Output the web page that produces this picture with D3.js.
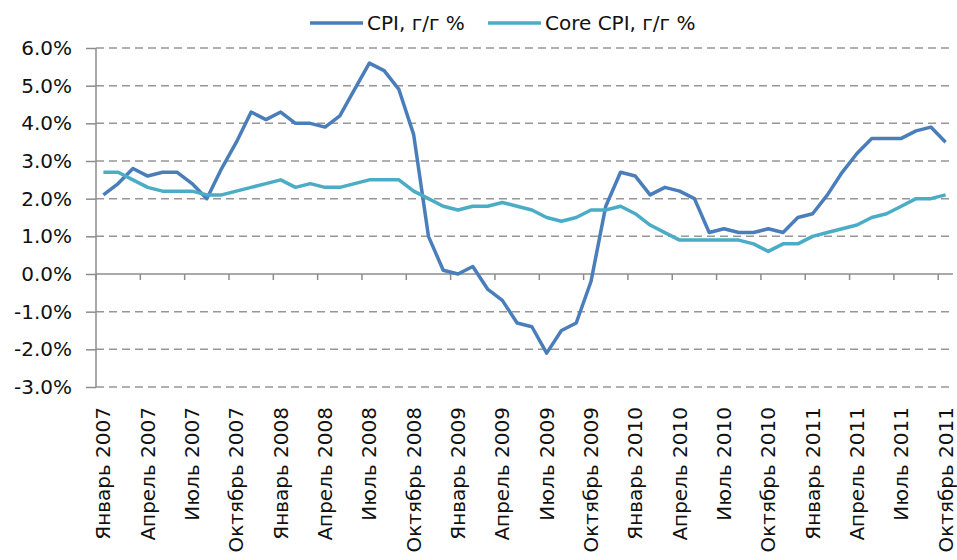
<!DOCTYPE html>
<html>
<head>
<meta charset="utf-8">
<script src="https://cdn.jsdelivr.net/npm/d3@7"></script>
<style>
  body { margin: 0; background: #fff; }
  text { font-family: "DejaVu Sans", sans-serif; fill: #111; }
</style>
</head>
<body>
<div id="chart"></div>
<script>
// month labels and years (Jan 2007 .. Oct 2011)
var monthNames = ["Январь", "Февраль", "Март", "Апрель", "Май", "Июнь",
  "Июль", "Август", "Сентябрь", "Октябрь", "Ноябрь", "Декабрь"];
var years = [2007, 2008, 2009, 2010, 2011];

// CPI, y/y %
var cpi = [
  2.1, 2.4, 2.8, 2.6, 2.7, 2.7, 2.4, 2.0, 2.8, 3.5, 4.3, 4.1,
  4.3, 4.0, 4.0, 3.9, 4.2, 4.9, 5.6, 5.4, 4.9, 3.7, 1.0, 0.1,
  0.0, 0.2, -0.4, -0.7, -1.3, -1.4, -2.1, -1.5, -1.3, -0.2, 1.8, 2.7,
  2.6, 2.1, 2.3, 2.2, 2.0, 1.1, 1.2, 1.1, 1.1, 1.2, 1.1, 1.5,
  1.6, 2.1, 2.7, 3.2, 3.6, 3.6, 3.6, 3.8, 3.9, 3.5
];

// Core CPI, y/y %
var coreCpi = [
  2.7, 2.7, 2.5, 2.3, 2.2, 2.2, 2.2, 2.1, 2.1, 2.2, 2.3, 2.4,
  2.5, 2.3, 2.4, 2.3, 2.3, 2.4, 2.5, 2.5, 2.5, 2.2, 2.0, 1.8,
  1.7, 1.8, 1.8, 1.9, 1.8, 1.7, 1.5, 1.4, 1.5, 1.7, 1.7, 1.8,
  1.6, 1.3, 1.1, 0.9, 0.9, 0.9, 0.9, 0.9, 0.8, 0.6, 0.8, 0.8,
  1.0, 1.1, 1.2, 1.3, 1.5, 1.6, 1.8, 2.0, 2.0, 2.1
];

var yTicks = [-3, -2, -1, 0, 1, 2, 3, 4, 5, 6];
var seriesNames = ["CPI, г/г %", "Core CPI, г/г %"];
var seriesColors = ["#4a7ebb", "#4bacc6"];

// build category labels
var categories = [];
years.forEach(function (y) {
  monthNames.forEach(function (m) { categories.push(m + " " + y); });
});
categories = categories.slice(0, cpi.length);

var margin = { top: 48, right: 4, bottom: 173, left: 96 },
  width = 957 - margin.left - margin.right,
  height = 560 - margin.top - margin.bottom;

var svg = d3.select("#chart")
  .append("svg")
  .attr("width", 957)
  .attr("height", 560)
  .append("g")
  .attr("transform", "translate(" + margin.left + "," + margin.top + ")");

var x = d3.scaleBand()
  .domain(categories)
  .range([0, width])
  .padding(0);

var y = d3.scaleLinear()
  .domain([-3, 6])
  .range([height, 0]);

// dashed gridlines
svg.selectAll(".grid")
  .data(yTicks.filter(function (d) { return d !== 0; }))
  .enter().append("line")
  .attr("class", "grid")
  .attr("x1", 0)
  .attr("x2", width)
  .attr("y1", function (d) { return y(d); })
  .attr("y2", function (d) { return y(d); })
  .style("stroke", "#969696")
  .style("stroke-width", 1.5)
  .style("stroke-dasharray", "8,5");

// y axis
var yAxis = d3.axisLeft(y)
  .tickValues(yTicks)
  .tickSize(10)
  .tickPadding(14)
  .tickFormat(function (d) { return d.toFixed(1) + "%"; });

var yg = svg.append("g").call(yAxis);
yg.selectAll("path, line").style("stroke", "#8c8c8c").style("stroke-width", 1.5);
yg.selectAll("text").style("font-size", "20px").attr("fill", "#111");
yg.select(".domain").attr("d", "M0," + y(-3) + "V" + y(6));

// x axis along 0%
var tickCats = categories.filter(function (d, i) { return i % 3 === 0; });
var xg = svg.append("g").attr("transform", "translate(0," + y(0) + ")");
xg.append("line")
  .attr("x1", 0).attr("x2", width)
  .style("stroke", "#8c8c8c").style("stroke-width", 1.5);
xg.selectAll(".xtick")
  .data(tickCats)
  .enter().append("line")
  .attr("class", "xtick")
  .attr("x1", function (d) { return x(d); })
  .attr("x2", function (d) { return x(d); })
  .attr("y1", 0).attr("y2", 6)
  .style("stroke", "#8c8c8c").style("stroke-width", 1.5);

// x labels at bottom, rotated
svg.selectAll(".xlabel")
  .data(tickCats)
  .enter().append("text")
  .attr("class", "xlabel")
  .attr("transform", function (d) {
    return "translate(" + (x(d) + x.bandwidth() / 2 + 7) + "," + (height + 20) + ") rotate(-90)";
  })
  .attr("text-anchor", "end")
  .style("font-size", "20px")
  .text(function (d) { return d; });

// lines
var line = d3.line()
  .x(function (d, i) { return x(categories[i]) + x.bandwidth() / 2; })
  .y(function (d) { return y(d); });

[cpi, coreCpi].forEach(function (series, k) {
  svg.append("path")
    .datum(series)
    .attr("d", line)
    .style("fill", "none")
    .style("stroke", seriesColors[k])
    .style("stroke-width", 3.5)
    .style("stroke-linejoin", "round");
});

// legend
var legendX = [310, 488];
var legend = d3.select("#chart svg").selectAll(".legend")
  .data(seriesNames)
  .enter().append("g")
  .attr("class", "legend")
  .attr("transform", function (d, i) { return "translate(" + legendX[i] + ",23)"; });

legend.append("line")
  .attr("x1", 0).attr("x2", 53)
  .style("stroke", function (d, i) { return seriesColors[i]; })
  .style("stroke-width", 3.5);

legend.append("text")
  .attr("x", 57)
  .attr("y", 7)
  .style("font-size", "20px")
  .text(function (d) { return d; });
</script>
</body>
</html>
